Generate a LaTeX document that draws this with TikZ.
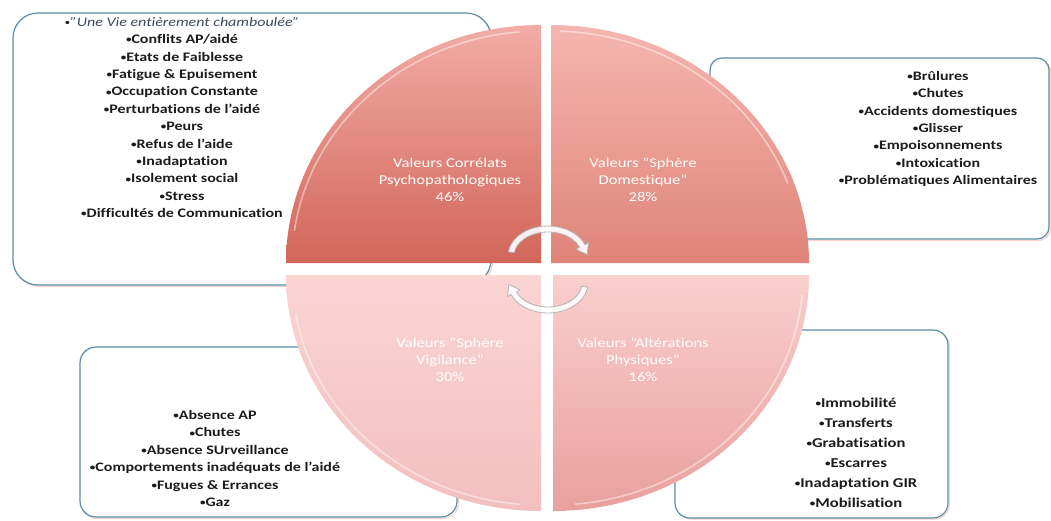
\documentclass[tikz,border=0pt]{standalone}
\usepackage{fontspec}
\setmainfont{Carlito}[FakeStretch=1.23, Ligatures={TeX,NoCommon}]
\usetikzlibrary{calc}
\definecolor{boxblue}{HTML}{5B8DA6}
\definecolor{glowpink}{HTML}{F6D2CC}
\definecolor{listblack}{HTML}{1C1C1C}
\definecolor{quoteblue}{HTML}{3E4C60}
\definecolor{arrowgrey}{HTML}{B4B4B8}
\definecolor{tlTop}{HTML}{F2ACA6}
\definecolor{tlBot}{HTML}{D2665A}
\definecolor{trTop}{HTML}{F5B6B0}
\definecolor{trBot}{HTML}{DF8479}
\definecolor{blTop}{HTML}{FAD5D3}
\definecolor{blBot}{HTML}{F2BFBE}
\definecolor{brTop}{HTML}{F9CFCD}
\definecolor{brBot}{HTML}{E9A09D}
\newcommand\bul{\raisebox{0.12ex}{\fontsize{9}{9}\selectfont•}}
\begin{document}
\begin{tikzpicture}[x=1pt,y=-1pt,
  frame/.style={draw=boxblue, line width=1.2pt, fill=white},
  glowline/.style={draw=glowpink, line width=1.2pt},
  listtext/.style={font=\fontsize{13}{17.4}\selectfont\bfseries, text=listblack, align=center, inner sep=0pt},
  quadtext/.style={font=\fontsize{13.5}{17}\selectfont, text=white, align=center, inner sep=0pt},
  highlight/.style={draw=white, draw opacity=0.45, line width=1.6pt},
  cyclearrow/.style={fill=white, fill opacity=0.9, draw=arrowgrey, line width=0.8pt, line join=round}]
\useasboundingbox (0,0) rectangle (1051,520);
\fill[white] (0,0) rectangle (1051,520);

% ---- text boxes (behind the pie)
\draw[glowline, rounded corners=25pt] (14.5,14.5) rectangle (492.5,286.5);
\draw[frame, rounded corners=25pt] (13,13) rectangle (491,285);
\draw[glowline, rounded corners=12pt] (711.5,59.5) rectangle (1050.5,240.5);
\draw[frame, rounded corners=12pt] (710,58) rectangle (1049,239);
\draw[glowline, rounded corners=16pt] (81.5,348.5) rectangle (458.5,518.5);
\draw[frame, rounded corners=16pt] (80,347) rectangle (457,517);
\draw[glowline, rounded corners=15pt] (676.5,331.5) rectangle (949.5,519);
\draw[frame, rounded corners=15pt] (675,330) rectangle (948,518);

% ---- pie quadrants
\shade[top color=tlTop, bottom color=tlBot] (541,263) -- (286,263)
  arc[start angle=180, end angle=90, x radius=255pt, y radius=238pt] -- cycle;
\shade[top color=trTop, bottom color=trBot] (551,263) -- (551,25)
  arc[start angle=90, end angle=0, x radius=258pt, y radius=238pt] -- cycle;
\shade[top color=blTop, bottom color=blBot] (541,275) -- (541,511)
  arc[start angle=270, end angle=180, x radius=255pt, y radius=236pt] -- cycle;
\shade[top color=brTop, bottom color=brBot] (553,275) -- (809,275)
  arc[start angle=0, end angle=-90, x radius=256pt, y radius=236pt] -- cycle;

% highlights along the arcs
\draw[highlight] ($(541,263)+(172:249pt and 232pt)$) arc[start angle=172, end angle=95, x radius=249pt, y radius=232pt];
\draw[highlight] ($(551,263)+(88:252pt and 232pt)$) arc[start angle=88, end angle=20, x radius=252pt, y radius=232pt];
\draw[highlight] ($(541,275)+(265:249pt and 230pt)$) arc[start angle=265, end angle=190, x radius=249pt, y radius=230pt];
\draw[highlight] ($(553,275)+(-5:250pt and 230pt)$) arc[start angle=-5, end angle=-85, x radius=250pt, y radius=230pt];

% ---- circular arrows
\path[cyclearrow] ($(548,256)+(172:40pt and 30pt)$)
  arc[start angle=172, end angle=22, x radius=40pt, y radius=30pt]
  -- (588.4,242.5) -- (587.2,254.6) -- (576.2,249.3)
  -- ($(548,256)+(22:34pt and 24pt)$)
  arc[start angle=22, end angle=172, x radius=34pt, y radius=24pt] -- cycle;
\path[cyclearrow] ($(548,283)+(-8:40pt and 30pt)$)
  arc[start angle=-8, end angle=-158, x radius=40pt, y radius=30pt]
  -- (507.6,296.5) -- (508.8,284.4) -- (519.8,289.7)
  -- ($(548,283)+(-158:34pt and 24pt)$)
  arc[start angle=-158, end angle=-8, x radius=34pt, y radius=24pt] -- cycle;

% ---- quadrant labels
\node[quadtext] (qtl) at (450,180) {Valeurs Corrélats\\Psychopathologiques\\46\%};
\node[quadtext] (qtr) at (643,180) {Valeurs "Sphère\\Domestique"\\28\%};
\node[quadtext] (qbl) at (450,360) {Valeurs "Sphère\\Vigilance"\\30\%};
\node[quadtext] (qbr) at (643,360) {Valeurs "Altérations\\Physiques"\\16\%};

% ---- list texts
\node[listtext] (ltl) at (182,117.5) {{\mdseries\itshape \bul\textcolor{quoteblue}{"Une Vie entièrement chamboulée"}}\\
  \bul Conflits AP/aidé\\ \bul Etats de Faiblesse\\ \bul Fatigue \& Epuisement\\ \bul Occupation Constante\\
  \bul Perturbations de l'aidé\\ \bul Peurs\\ \bul Refus de l'aide\\ \bul Inadaptation\\ \bul Isolement social\\
  \bul Stress\\ \bul Difficultés de Communication};
\node[listtext] (ltr) at (938,129) {\bul Brûlures\\ \bul Chutes\\ \bul Accidents domestiques\\ \bul Glisser\\
  \bul Empoisonnements\\ \bul Intoxication\\ \bul Problématiques Alimentaires};
\node[listtext] (lbl) at (215,458.5) {\bul Absence AP\\ \bul Chutes\\ \bul Absence SUrveillance\\
  \bul Comportements inadéquats de l'aidé\\ \bul Fugues \& Errances\\ \bul Gaz};
\node[listtext, font=\fontsize{13.5}{20}\selectfont\bfseries] (lbr) at (856,452.5) {\bul Immobilité\\ \bul Transferts\\ \bul Grabatisation\\ \bul Escarres\\
  \bul Inadaptation GIR\\ \bul Mobilisation};
\end{tikzpicture}
\end{document}
